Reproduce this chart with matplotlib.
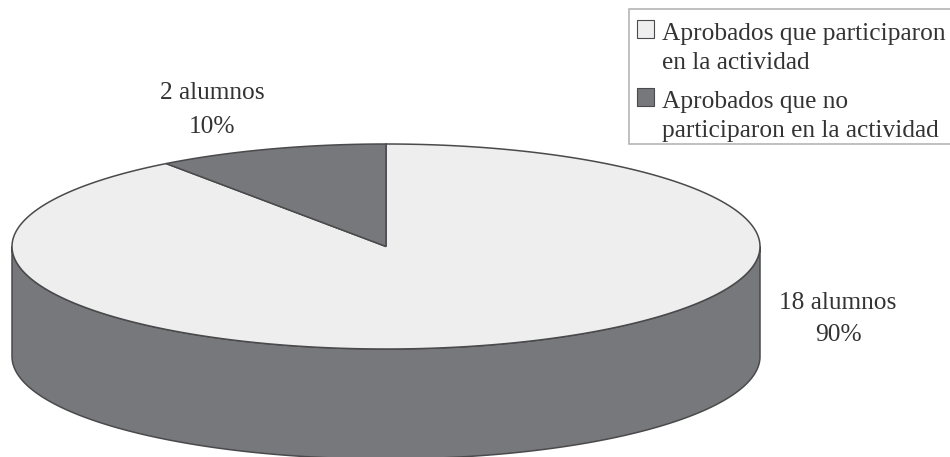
#!/usr/bin/env python3
import numpy as np
import matplotlib

matplotlib.use("Agg")
import matplotlib.pyplot as plt
from matplotlib.legend_handler import HandlerPatch
from matplotlib.patches import Patch, Polygon, Rectangle

students = [18, 2]
shares = ["90%", "10%"]
labels = [
    "Aprobados que participaron\nen la actividad",
    "Aprobados que no\nparticiparon en la actividad",
]
colors = ["#eeeeef", "#77787b"]
edge = "#4a4a4c"

# disc geometry, in pixels
cx, cy = 386.0, 246.5
rx, ry = 374.0, 102.5
depth = 110.0


def arc(start, stop, y0=cy, n=300):
    t = np.radians(np.linspace(start, stop, n))
    return np.column_stack([cx + rx * np.cos(t), y0 - ry * np.sin(t)])


def top_swatch(legend, orig_handle, xdescent, ydescent, width, height, fontsize):
    # keep the swatch next to the first line of a two-line label
    return Rectangle((-xdescent, -ydescent + 0.76 * fontsize), width, height)


plt.rcParams["font.family"] = "Liberation Serif"

fig = plt.figure(figsize=(9.5, 4.57), dpi=100)
ax = fig.add_axes([0, 0, 1, 1])
ax.set_xlim(0, 950)
ax.set_ylim(457, 0)
ax.axis("off")

# side of the cylinder, front half only
front = arc(180, 360)
side = np.vstack([front, arc(360, 180, cy + depth)])
ax.add_patch(Polygon(side, closed=True, fc=colors[1], ec=edge, lw=1.1))

# the slices start at twelve o'clock, the small one runs counterclockwise
total = sum(students)
split = 90 + 360 * students[1] / total
big = np.vstack([[cx, cy], arc(split, 450)])
small = np.vstack([[cx, cy], arc(90, split)])
ax.add_patch(Polygon(big, closed=True, fc=colors[0], ec=edge, lw=1.1))
ax.add_patch(Polygon(small, closed=True, fc=colors[1], ec=edge, lw=1.1))

ax.text(212, 110, f"{students[1]} alumnos\n{shares[1]}", ha="center", va="center",
        fontsize=18.3, color="#333333", linespacing=1.75)
ax.text(838, 319, f"{students[0]} alumnos\n{shares[0]}", ha="center", va="center",
        fontsize=18.3, color="#333333", linespacing=1.6)

# legend frame is separate since the padding above and below differs
ax.add_patch(Rectangle((629, 9), 330, 135, fc="white", ec="#b5b5b5", lw=1.2))

handles = [Patch(fc=c, ec=edge, lw=0.8) for c in colors]
leg = ax.legend(
    handles,
    labels,
    handler_map={Patch: HandlerPatch(patch_func=top_swatch)},
    loc="upper left",
    bbox_to_anchor=(629 / 950, 1 - 15 / 457),
    frameon=False,
    fontsize=18.3,
    labelcolor="#333333",
    handlelength=0.68,
    handleheight=0.68,
    handletextpad=0.3,
    borderpad=0.32,
    labelspacing=0.67,
    borderaxespad=0,
)
for txt in leg.get_texts():
    txt.set_linespacing(1.42)

fig.savefig("out.png", dpi=100)
